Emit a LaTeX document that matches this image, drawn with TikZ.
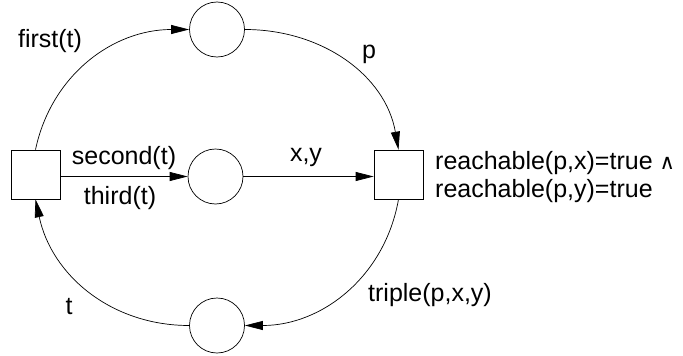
\documentclass[tikz,border=0pt]{standalone}
\usepackage{fontspec}
\setmainfont{Liberation Sans}
\newfontfamily\symfont{DejaVu Sans}
\usetikzlibrary{arrows.meta}
\begin{document}
\begin{tikzpicture}[x=1pt,y=-1pt,
  every node/.style={font=\fontsize{25}{28}\selectfont, inner sep=0pt},
  trans/.style={draw, line width=0.7pt, minimum width=49pt, minimum height=49pt},
  place/.style={draw, circle, line width=0.7pt, minimum size=55pt},
  lab/.style={},
  arc/.style={line width=0.7pt, -{Triangle[length=18pt,width=9pt]}}]
\useasboundingbox (0,0) rectangle (683,356);
\node[trans] (t1) at (35.5,174.5) {};
\node[trans] (t2) at (398.5,174.5) {};
\node[place] (p1) at (217,29.5) {};
\node[place] (p2) at (215.5,176.5) {};
\node[place] (p3) at (217,325.5) {};
\draw[arc] (t1.north) to[out=78,in=180] (p1.west);
\draw[arc] (p1.east) to[out=0,in=100] (t2.north);
\draw[arc] (t2.south) to[out=-100,in=0] (p3.east);
\draw[arc] (p3.west) to[out=180,in=-78] (t1.south);
\draw[arc] (t1.east |- p2.west) -- (p2.west);
\draw[arc] (p2.east) -- (t2.west |- p2.east);
\node[lab] (l1) at (50,41) {first(t)};
\node[lab] (l2) at (124,158) {second(t)};
\node[lab] (l3) at (120,198) {third(t)};
\node[lab] (l4) at (306,157) {x,y};
\node[lab] (l5) at (69,307) {t};
\node[lab] (l6) at (369,54) {p};
\node[lab] (l7) at (430,295) {triple(p,x,y)};
\node[lab, anchor=north west, align=left] (l8) at (435,151) {reachable(p,x)=true {\symfont\fontsize{21}{20}\selectfont ∧}\\reachable(p,y)=true};
\end{tikzpicture}
\end{document}
